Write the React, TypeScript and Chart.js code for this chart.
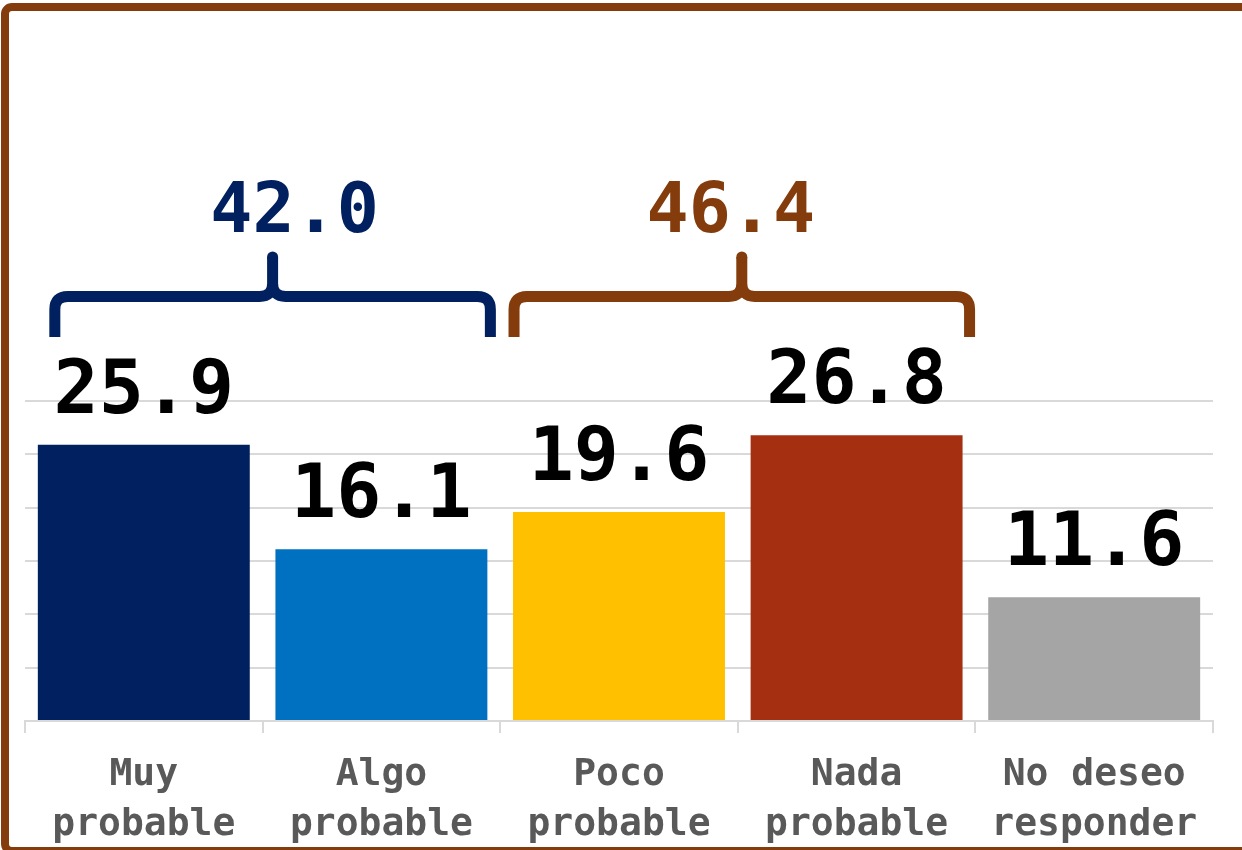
import React, { useEffect, useRef } from "react";
import { Chart, registerables } from "chart.js";

Chart.register(...registerables);

const categories: string[][] = [
  ["Muy", "probable"],
  ["Algo", "probable"],
  ["Poco", "probable"],
  ["Nada", "probable"],
  ["No deseo", "responder"],
];
const values: number[] = [25.9, 16.1, 19.6, 26.8, 11.6];
const barColors: string[] = ["#002060", "#0070C0", "#FFC000", "#A52F11", "#A5A5A5"];
const groupFrom: number[] = [0, 2];
const groupTo: number[] = [1, 3];
const groupColors: string[] = ["#002060", "#843C0C"];
const yMax = 30;
const yStep = 5;

const FONT = "'DejaVu Sans Mono', monospace";

function drawBrace(
  ctx: CanvasRenderingContext2D,
  xl: number,
  xr: number,
  yBar: number,
  yLeg: number,
  yPeak: number,
  color: string
) {
  const xm = (xl + xr) / 2;
  const r = 13;
  ctx.save();
  ctx.strokeStyle = color;
  ctx.fillStyle = color;
  ctx.lineWidth = 11;
  ctx.lineJoin = "round";
  ctx.lineCap = "butt";
  ctx.beginPath();
  ctx.moveTo(xl, yLeg);
  ctx.lineTo(xl, yBar + r);
  ctx.quadraticCurveTo(xl, yBar, xl + r, yBar);
  ctx.lineTo(xm - r, yBar);
  ctx.quadraticCurveTo(xm, yBar, xm, yBar - r);
  ctx.lineTo(xm, yPeak);
  ctx.moveTo(xm, yBar - r);
  ctx.quadraticCurveTo(xm, yBar, xm + r, yBar);
  ctx.lineTo(xr - r, yBar);
  ctx.quadraticCurveTo(xr, yBar, xr, yBar + r);
  ctx.lineTo(xr, yLeg);
  ctx.stroke();
  ctx.beginPath();
  ctx.arc(xm, yPeak, 5.5, 0, Math.PI * 2);
  ctx.fill();
  ctx.restore();
}

const overlayPlugin = {
  id: "overlay",
  afterDatasetsDraw(chart: any) {
    const ctx: CanvasRenderingContext2D = chart.ctx;
    const meta = chart.getDatasetMeta(0);
    const yScale = chart.scales.y;

    // value labels
    ctx.save();
    ctx.font = `bold 75px ${FONT}`;
    ctx.fillStyle = "#000000";
    ctx.textAlign = "center";
    ctx.textBaseline = "alphabetic";
    meta.data.forEach((bar: any, i: number) => {
      ctx.fillText(values[i].toFixed(1), bar.x, bar.y - 32);
    });
    ctx.restore();

    // braces with group totals
    const legOffsets = [
      [17, 3],
      [1, 7],
    ];
    const labelOffsets = [22, -11];
    groupFrom.forEach((from, g) => {
      const to = groupTo[g];
      const b0 = meta.data[from];
      const b1 = meta.data[to];
      const xl = b0.x - b0.width / 2 + legOffsets[g][0];
      const xr = b1.x + b1.width / 2 + legOffsets[g][1];
      const yBar = yScale.getPixelForValue(39.8);
      const yLeg = yScale.getPixelForValue(36.0);
      const yPeak = yScale.getPixelForValue(43.5);
      drawBrace(ctx, xl, xr, yBar, yLeg, yPeak, groupColors[g]);
      let total = 0;
      for (let k = from; k <= to; k++) total += values[k];
      ctx.save();
      ctx.font = `bold 70px ${FONT}`;
      ctx.fillStyle = groupColors[g];
      ctx.textAlign = "center";
      ctx.textBaseline = "alphabetic";
      ctx.fillText(total.toFixed(1), (xl + xr) / 2 + labelOffsets[g], yScale.getPixelForValue(45.8));
      ctx.restore();
    });
  },
  afterDraw(chart: any) {
    const ctx: CanvasRenderingContext2D = chart.ctx;
    ctx.save();
    ctx.strokeStyle = "#843C0C";
    ctx.lineWidth = 8;
    ctx.beginPath();
    (ctx as any).roundRect(5, 7, 1300, 844, 7);
    ctx.stroke();
    ctx.restore();
  },
};

export default function App() {
  const canvasRef = useRef<HTMLCanvasElement | null>(null);

  useEffect(() => {
    if (!canvasRef.current) return;
    const chart = new Chart(canvasRef.current, {
      type: "bar",
      data: {
        labels: categories,
        datasets: [
          {
            data: values,
            backgroundColor: barColors,
            borderWidth: 0,
            barPercentage: 0.892,
            categoryPercentage: 1,
          },
        ],
      },
      options: {
        animation: false,
        responsive: true,
        maintainAspectRatio: false,
        layout: { padding: { top: 401, left: 25, right: 29, bottom: 0 } },
        plugins: {
          legend: { display: false },
          tooltip: { enabled: false },
        },
        scales: {
          x: {
            offset: true,
            afterFit: (s: any) => {
              s.height = 129;
            },
            border: { display: true, color: "#D9D9D9", width: 2 },
            grid: {
              display: true,
              drawOnChartArea: false,
              drawTicks: true,
              tickLength: 12,
              color: "#D9D9D9",
              lineWidth: 2,
              offset: true,
            },
            ticks: {
              color: "#595959",
              padding: 17,
              maxRotation: 0,
              autoSkip: false,
              font: { family: FONT, size: 38, weight: "bold", lineHeight: 1.316 },
            },
          },
          y: {
            min: 0,
            max: yMax,
            afterFit: (s: any) => {
              s.width = 0;
            },
            border: { display: false },
            grid: { color: "#D9D9D9", lineWidth: 2, drawTicks: false },
            ticks: { display: false, stepSize: yStep },
          },
        },
      },
      plugins: [overlayPlugin],
    });
    return () => chart.destroy();
  }, []);

  return (
    <div style={{ position: "absolute", left: 0, top: 0, width: 1242, height: 850, background: "#ffffff" }}>
      <canvas ref={canvasRef} />
    </div>
  );
}
